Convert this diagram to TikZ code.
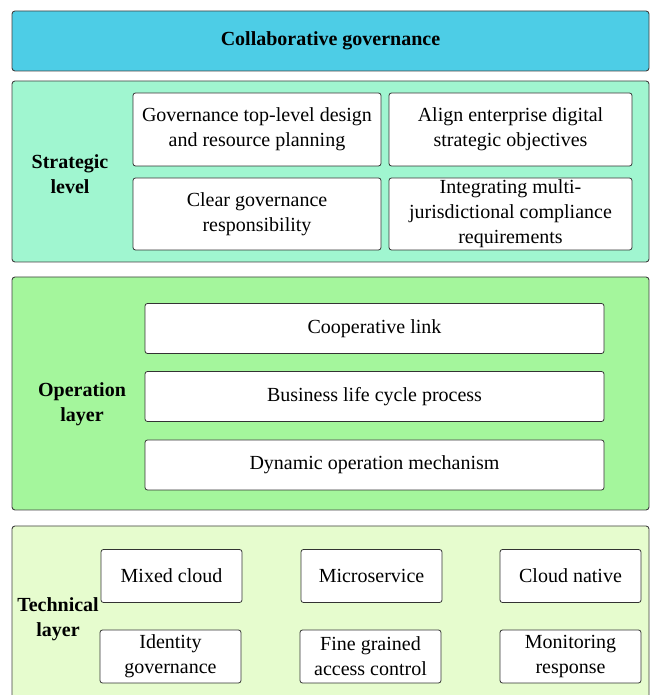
\documentclass[tikz,border=0pt]{standalone}
\usepackage{fontspec}
\setmainfont{Liberation Serif}
\newfontfamily\boxfont{Liberation Serif}
\usetikzlibrary{positioning}

\definecolor{topcyan}{RGB}{77,205,230}
\definecolor{stratmint}{RGB}{160,246,208}
\definecolor{opgreen}{RGB}{164,246,156}
\definecolor{techlime}{RGB}{230,252,206}

\tikzset{
  panel/.style={draw=black!75, rounded corners=3pt, line width=0.9pt, inner sep=0pt},
  itembox/.style={draw=black!80, fill=white, rounded corners=2.5pt, line width=0.8pt,
    align=center, inner sep=0pt, font=\boxfont\fontsize{20}{25}\selectfont},
  layername/.style={align=center, font=\boxfont\fontsize{20}{25}\selectfont\bfseries}
}

\begin{document}
\begin{tikzpicture}[x=1pt,y=1pt]
\useasboundingbox (0,0) rectangle (651,695);

% 1. top bar
\node[panel, fill=topcyan, minimum width=637, minimum height=60,
      font=\boxfont\fontsize{20}{25}\selectfont\bfseries] (collab) at (330.5,654) {Collaborative governance};

% 2. strategic level
\node[panel, fill=stratmint, minimum width=637, minimum height=181] (strategic) at (330.5,523.5) {};
\node[layername] (stratname) at (70,521) {Strategic\\level};
\node[itembox, minimum width=248, minimum height=73] (design) at (257,565.5)
  {Governance top-level design\\and resource planning};
\node[itembox, minimum width=243, minimum height=73] (align) at (510.5,565.5)
  {Align enterprise digital\\strategic objectives};
\node[itembox, minimum width=248, minimum height=72] (resp) at (257,481)
  {Clear governance\\responsibility};
\node[itembox, minimum width=243, minimum height=72] (comply) at (510.5,481)
  {Integrating multi-\\jurisdictional compliance\\requirements};

% 3. operation layer
\node[panel, fill=opgreen, minimum width=637, minimum height=233] (operation) at (330.5,301.5) {};
\node[layername] (opname) at (82,291) {Operation\\layer};
\node[itembox, minimum width=459, minimum height=50] (coop) at (374.5,366.5) {Cooperative link};
\node[itembox, minimum width=459, minimum height=50] (lifecycle) at (374.5,298.5) {Business life cycle process};
\node[itembox, minimum width=459, minimum height=50] (dynamic) at (374.5,230) {Dynamic operation mechanism};

% 4. technical layer (runs past the lower edge)
\node[panel, fill=techlime, minimum width=637, minimum height=184] (technical) at (330.5,77) {};
\node[layername] (techname) at (58,76) {Technical\\layer};
\foreach \name/\x/\y/\txt in {
    mixed/171.5/119/{Mixed cloud},
    micro/371.5/119/{Microservice},
    native/570.5/119/{Cloud native},
    identity/170.5/38.5/{Identity\\governance},
    access/370.5/38.5/{Fine grained\\access control},
    monitor/570.5/38.5/{Monitoring\\response}} {
  \node[itembox, minimum width=141, minimum height=53] (\name) at (\x,\y) {\txt};
}

\end{tikzpicture}
\end{document}
